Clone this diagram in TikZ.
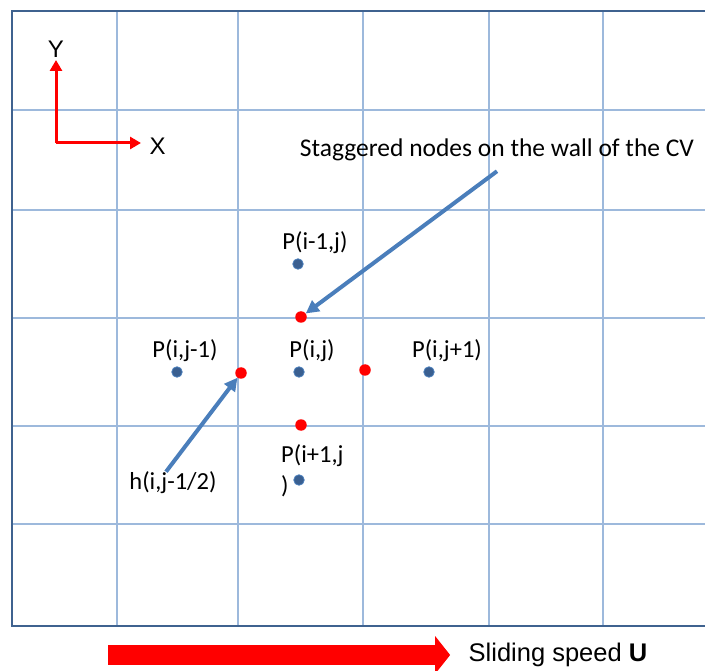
\documentclass[tikz,border=0pt]{standalone}
\usepackage{fontspec}
\setmainfont{Carlito}
\newfontfamily\arialfont{Liberation Sans}
\usetikzlibrary{arrows.meta,positioning}
\definecolor{gridblue}{HTML}{9DB9DC}
\definecolor{frameblue}{HTML}{3F628F}
\definecolor{arrowblue}{HTML}{4A7EBB}
\definecolor{dotblue}{HTML}{3A5F90}
\begin{document}
\begin{tikzpicture}[x=1pt, y=-1pt, font=\fontsize{24.5}{31}\selectfont,
  grid/.style={gridblue, line width=1.3pt},
  wall/.style={circle, fill=red, inner sep=0pt, minimum size=11.5pt},
  cell/.style={circle, fill=dotblue, draw=arrowblue, line width=0.8pt, inner sep=0pt, minimum size=10.5pt},
  pointer/.style={-{Triangle[length=13pt,width=13pt]}, arrowblue, line width=4pt},
  axis/.style={-{Triangle[length=11pt,width=12pt]}, red, line width=3pt},
  lab/.style={inner sep=1pt}]
\useasboundingbox (0,0) rectangle (705,671);
\foreach \x in {117,238,363,489,603} \draw[grid] (\x,11) -- (\x,626);
\foreach \y in {110,210,318,426,524} \draw[grid] (12,\y) -- (705,\y);
\draw[frameblue, line width=2.8pt] (705,11) -- (12,11) -- (12,626) -- (705,626);

\coordinate (org) at (56,143);
\coordinate (ytip) at (56,60);
\coordinate (xtip) at (141,143);
\draw[axis] (org) -- (ytip);
\draw[axis] (org) -- (xtip);
\node (ylab) [above=-1pt of ytip, font=\arialfont\fontsize{24}{28}\selectfont] {Y};
\node (xlab) [right=5pt of xtip, yshift=-3pt, font=\arialfont\fontsize{24}{28}\selectfont] {X};

\node[cell] (pN) at (298,264) {};
\node[cell] (pW) at (177,372) {};
\node[cell] (pC) at (299,372) {};
\node[cell] (pE) at (429,372) {};
\node[cell] (pS) at (299,480) {};
\node[wall] (wN) at (301,317) {};
\node[wall] (wW) at (241,373) {};
\node[wall] (wE) at (365,370) {};
\node[wall] (wS) at (301,425) {};

\node[lab] (lN) at (315,243) {P(i-1,j)};
\node[lab] (lW) at (185,351) {P(i,j-1)};
\node[lab] (lC) at (312,351) {P(i,j)};
\node[lab] (lE) at (447,351) {P(i,j+1)};
\node[lab, anchor=north west, align=left] (lS) at (280,443) {P(i+1,j\\)};
\node[lab] (hlab) at (173,483) {h(i,j-1/2)};
\node[lab, font=\fontsize{25.5}{31}\selectfont] (stag) at (497,150) {Staggered nodes on the wall of the CV};

\draw[pointer] ([xshift=-7pt,yshift=-1pt]hlab.north) -- (wW);
\draw[pointer] ([yshift=-9pt]stag.south) -- (wN);

\coordinate (sstart) at (108,655);
\node (slab) at (558,655) [font=\arialfont\fontsize{25.5}{30}\selectfont] {Sliding speed \textbf{U}};
\draw[red, line width=20pt, -{Triangle[length=15pt,width=37pt]}] (sstart) -- ([xshift=-15pt]slab.west);
\end{tikzpicture}
\end{document}
